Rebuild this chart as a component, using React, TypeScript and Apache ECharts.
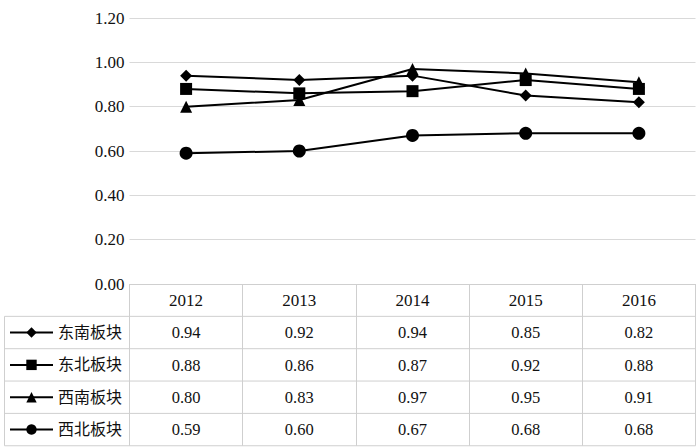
import React, { useEffect, useRef } from "react";
import * as echarts from "echarts";

const years = ["2012", "2013", "2014", "2015", "2016"];
const seriesNames = ["东南板块", "东北板块", "西南板块", "西北板块"];
const southeast = [0.94, 0.92, 0.94, 0.85, 0.82];
const northeast = [0.88, 0.86, 0.87, 0.92, 0.88];
const southwest = [0.8, 0.83, 0.97, 0.95, 0.91];
const northwest = [0.59, 0.6, 0.67, 0.68, 0.68];
const yTicks = [0, 0.2, 0.4, 0.6, 0.8, 1.0, 1.2];

const seriesValues = [southeast, northeast, southwest, northwest];
const symbols = ["diamond", "rect", "triangle", "circle"];
const symbolSizes = [12, 12, 12, 13];

export default function App() {
  const ref = useRef<HTMLDivElement>(null);
  useEffect(() => {
    if (!ref.current) return;
    const chart = echarts.init(ref.current, null, { renderer: "svg" });
    const W = 700;
    const gridLeft = 129.5;
    const gridRight = 4.5;
    const gridTop = 18;
    const axisY = 284;
    const rowH = 32.35;
    const tableLeft = 4.5;
    const tableRight = W - gridRight;
    const font = "Liberation Serif, Times New Roman, serif";
    const cjkFont = "Liberation Serif, Noto Sans CJK SC, serif";
    const textColor = "#111";
    const borderColor = "#cfcfcf";

    const xAxes: any[] = [
      {
        type: "category",
        data: years,
        gridIndex: 0,
        position: "bottom",
        boundaryGap: true,
        axisLine: { show: true, lineStyle: { color: borderColor, width: 1 } },
        axisTick: {
          show: true,
          inside: false,
          length: rowH * 5,
          lineStyle: { color: borderColor, width: 1 },
        },
        axisLabel: {
          fontFamily: font,
          fontSize: 17,
          color: textColor,
          margin: 8,
          lineHeight: 17,
        },
      },
    ];
    seriesValues.forEach((vals, i) => {
      xAxes.push({
        type: "category",
        data: vals.map((v) => v.toFixed(2)),
        gridIndex: 0,
        position: "bottom",
        offset: rowH * (i + 1),
        boundaryGap: true,
        axisLine: { show: false },
        axisTick: { show: false },
        axisLabel: {
          fontFamily: font,
          fontSize: 16.5,
          color: textColor,
          margin: 8.5,
          lineHeight: 16,
        },
      });
    });

    const graphics: any[] = [];
    for (let r = 1; r <= 5; r++) {
      const y = axisY + rowH * r;
      graphics.push({
        type: "line",
        shape: { x1: tableLeft, y1: y, x2: tableRight, y2: y },
        style: { stroke: borderColor, lineWidth: 1 },
        silent: true,
      });
    }
    graphics.push({
      type: "line",
      shape: { x1: tableLeft, y1: axisY + rowH, x2: tableLeft, y2: axisY + rowH * 5 },
      style: { stroke: borderColor, lineWidth: 1 },
      silent: true,
    });

    const legends = seriesNames.map((name, i) => ({
      data: [name],
      left: 9,
      top: axisY + rowH * (i + 1) + rowH / 2 - 8,
      padding: 0,
      itemWidth: 43,
      itemHeight: 13,
      itemGap: 4,
      selectedMode: false,
      textStyle: {
        fontFamily: cjkFont,
        fontSize: 16,
        color: textColor,
        lineHeight: 16,
      },
    }));

    chart.setOption({
      animation: false,
      backgroundColor: "#fff",
      grid: {
        left: gridLeft,
        right: gridRight,
        top: gridTop,
        bottom: 448 - axisY,
        containLabel: false,
      },
      legend: legends,
      xAxis: xAxes,
      yAxis: {
        type: "value",
        min: yTicks[0],
        max: yTicks[yTicks.length - 1],
        interval: 0.2,
        axisLine: { show: false },
        axisTick: { show: false },
        splitLine: { show: true, lineStyle: { color: "#d9d9d9", width: 1 } },
        axisLabel: {
          fontFamily: font,
          fontSize: 17,
          color: textColor,
          margin: 5,
          formatter: (v: number) => v.toFixed(2),
        },
      },
      series: seriesValues.map((vals, i) => ({
        name: seriesNames[i],
        type: "line",
        data: vals,
        xAxisIndex: 0,
        yAxisIndex: 0,
        symbol: symbols[i],
        symbolSize: symbolSizes[i],
        showAllSymbol: true,
        color: "#000",
        itemStyle: { color: "#000" },
        lineStyle: { color: "#000", width: 2 },
      })),
      graphic: graphics,
    });
    return () => chart.dispose();
  }, []);
  return (
    <div
      ref={ref}
      style={{ position: "fixed", left: 0, top: 0, width: 700, height: 448 }}
    />
  );
}
